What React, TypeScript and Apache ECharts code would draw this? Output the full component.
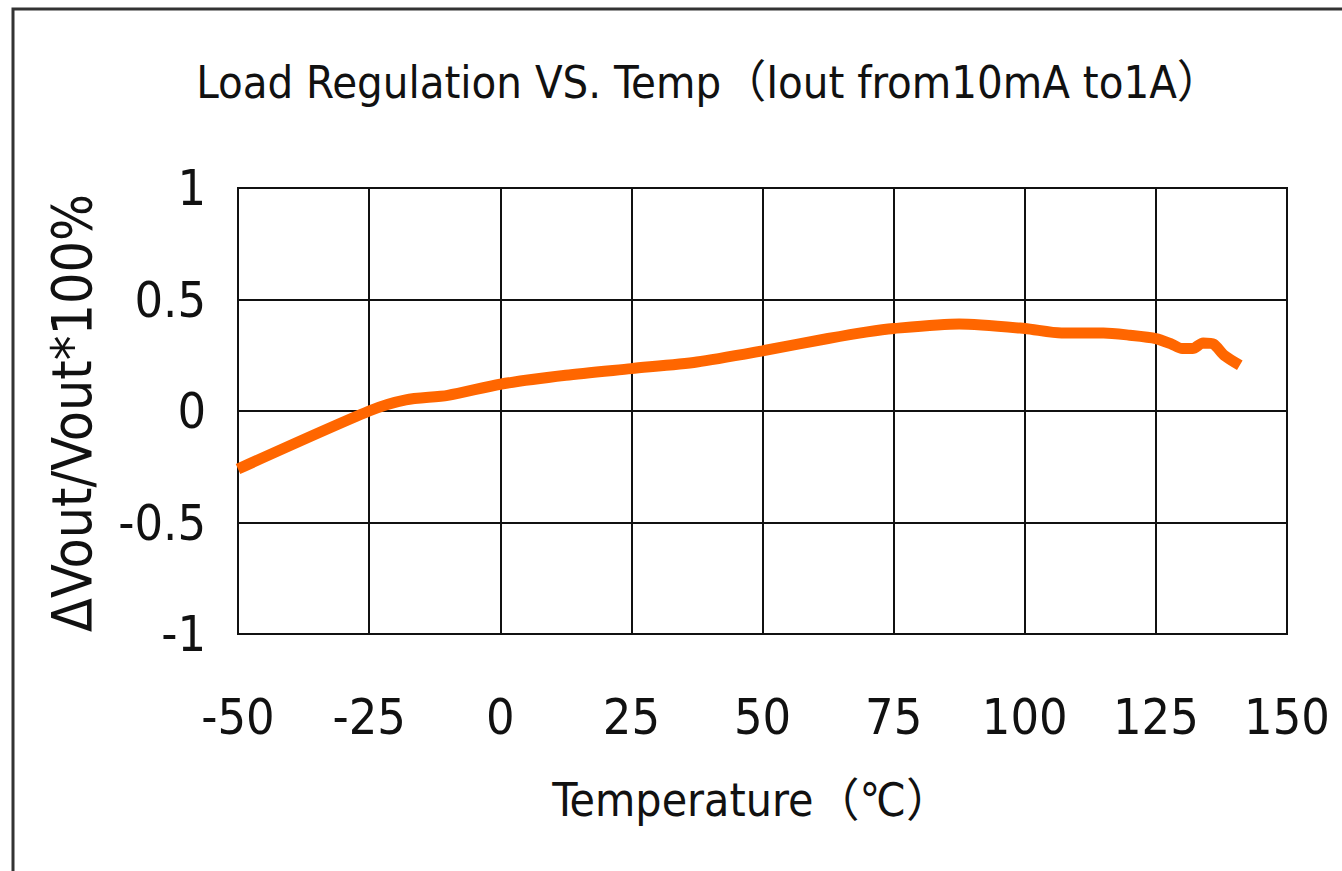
import React, { useEffect, useRef } from "react";
import * as echarts from "echarts";

const temperatures = [-50, -25, -18, -10, 0, 12.5, 25, 37.5, 50, 62.5, 70, 75, 87.5, 100, 107, 115, 120, 125, 128, 130, 132, 134, 136, 138, 141];
const deltaVout = [-0.26, 0, 0.05, 0.07, 0.12, 0.16, 0.19, 0.22, 0.27, 0.325, 0.355, 0.37, 0.39, 0.37, 0.35, 0.35, 0.34, 0.325, 0.3, 0.28, 0.28, 0.305, 0.3, 0.25, 0.205];

const titleText = "Load Regulation VS. Temp（Iout from10mA to1A）";
const xName = "Temperature（℃）";
const yName = "ΔVout/Vout*100%";

const FONT = '"Liberation Sans Narrow", "Arial Narrow", "DejaVu Sans Condensed", "Liberation Sans", "Noto Sans CJK SC", sans-serif';

export default function App() {
  const ref = useRef<HTMLDivElement>(null);
  useEffect(() => {
    if (!ref.current) return;
    const chart = echarts.init(ref.current, null, { renderer: "svg" });
    chart.setOption({
      animation: false,
      backgroundColor: "#ffffff",
      grid: {
        left: 238,
        right: 55,
        top: 188,
        bottom: 237,
        show: true,
        borderColor: "#111",
        borderWidth: 2,
      },
      xAxis: {
        type: "value",
        min: -50,
        max: 150,
        interval: 25,
        axisLine: { show: true, lineStyle: { color: "#111", width: 2 } },
        axisTick: { show: false },
        splitLine: { show: true, lineStyle: { color: "#111", width: 2 } },
        axisLabel: { color: "#111", fontSize: 50, fontFamily: FONT, margin: 58 },
      },
      yAxis: {
        type: "value",
        min: -1,
        max: 1,
        interval: 0.5,
        axisLine: { show: true, lineStyle: { color: "#111", width: 2 } },
        axisTick: { show: false },
        splitLine: { show: true, lineStyle: { color: "#111", width: 2 } },
        axisLabel: { color: "#111", fontSize: 50, fontFamily: FONT, margin: 32 },
      },
      series: [
        {
          type: "line",
          data: temperatures.map((t, i) => [t, deltaVout[i]]),
          smooth: 0.25,
          symbol: "none",
          lineStyle: { color: "#ff6600", width: 11 },
        },
      ],
      graphic: [
        {
          type: "rect",
          shape: { x: 13, y: 9, width: 1500, height: 1000 },
          style: { fill: "none", stroke: "#333", lineWidth: 3 },
          silent: true,
        },
        {
          type: "text",
          x: 709,
          y: 82,
          style: { text: titleText, fill: "#111", fontSize: 45, fontFamily: FONT, align: "center", verticalAlign: "middle" },
        },
        {
          type: "text",
          x: 752,
          y: 800,
          style: { text: xName, fill: "#111", fontSize: 46, fontFamily: FONT, align: "center", verticalAlign: "middle" },
        },
        {
          type: "text",
          x: 72,
          y: 413,
          rotation: Math.PI / 2,
          style: { text: yName, fill: "#111", fontSize: 55, fontFamily: FONT, align: "center", verticalAlign: "middle" },
        },
      ],
    });
    return () => chart.dispose();
  }, []);
  return <div ref={ref} style={{ position: "absolute", left: 0, top: 0, width: 1342, height: 871 }} />;
}
